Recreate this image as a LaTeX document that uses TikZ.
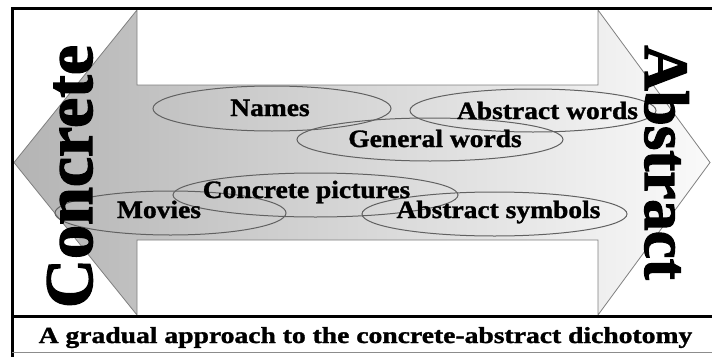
\documentclass[tikz,border=0pt]{standalone}
\usepackage{fontspec}
\setmainfont{Liberation Serif}[BoldFont={Liberation Serif Bold}]
\newfontfamily\heavyserif{Liberation Serif Bold}[FakeBold=1.2]
\newfontfamily\blackserif{Liberation Serif Bold}[FakeBold=2]
\usepackage{graphicx}
\usetikzlibrary{shapes.geometric}
% horizontally widened text
\newcommand\widetext[2]{\scalebox{#1}[1]{#2}}
\definecolor{shadeL}{RGB}{180,180,180}
\definecolor{shadeR}{RGB}{250,250,250}

\begin{document}
\begin{tikzpicture}[x=1pt,y=-1pt,
  frame/.style={line width=3pt, black},
  oval/.style={draw=black!62, line width=1pt, ellipse, inner sep=0pt},
  lbl/.style={font=\heavyserif\fontsize{25}{30}\selectfont, inner sep=0pt, anchor=base},
  bigword/.style={font=\blackserif\fontsize{#1}{#1}\selectfont, inner sep=0pt, anchor=base},
]
\useasboundingbox (0,0) rectangle (712,356);
\fill[white] (0,0) rectangle (712,356);

% double-headed arrow with a left-to-right grey gradient
\path[left color=shadeL, right color=shadeR, draw=black!50, line width=0.8pt]
  (14,162.5) -- (137,10) -- (137,85) -- (598,85) -- (598,10) -- (710,162.5)
  -- (598,315) -- (598,240) -- (137,240) -- (137,315) -- cycle;

% outer frame and caption strip
\draw[frame] (714,8) -- (12,8) -- (12,358);
\draw[frame] (12,316.5) -- (714,316.5);
\draw[black!45, line width=1.3pt] (12,352.8) -- (714,352.8);

% overlapping category ellipses
\node[oval, minimum width=238pt, minimum height=45pt] (e-names)   at (272,108.5) {};
\node[oval, minimum width=266pt, minimum height=43pt] (e-general) at (430,139.5) {};
\node[oval, minimum width=246pt, minimum height=43pt] (e-absw)    at (533,110.5) {};
\node[oval, minimum width=285pt, minimum height=44pt] (e-concpic) at (315.5,195) {};
\node[oval, minimum width=231pt, minimum height=44pt] (e-movies)  at (170.5,213) {};
\node[oval, minimum width=265pt, minimum height=44pt] (e-abssym)  at (494.5,214) {};

% ellipse labels
\node[lbl] (t-names)   at (270,116)   {\widetext{1.1}{Names}};
\node[lbl] (t-general) at (435,147)   {\widetext{1.1}{General words}};
\node[lbl] (t-absw)    at (547.5,119) {\widetext{1.1}{Abstract words}};
\node[lbl] (t-concpic) at (306.5,198) {\widetext{1.1}{Concrete pictures}};
\node[lbl] (t-movies)  at (159,218)   {\widetext{1.1}{Movies}};
\node[lbl] (t-abssym)  at (498.5,218) {\widetext{1.1}{Abstract symbols}};

% end-point words
\node[bigword=68, rotate=90]  (concrete) at (92,176.5)  {Concrete};
\node[bigword=63, rotate=-90] (abstract) at (645,162.5) {Abstract};

% caption
\node[lbl, font=\heavyserif\fontsize{23}{28}\selectfont] (caption) at (365.5,343)
  {\widetext{1.2}{A gradual approach to the concrete-abstract dichotomy}};
\end{tikzpicture}
\end{document}
